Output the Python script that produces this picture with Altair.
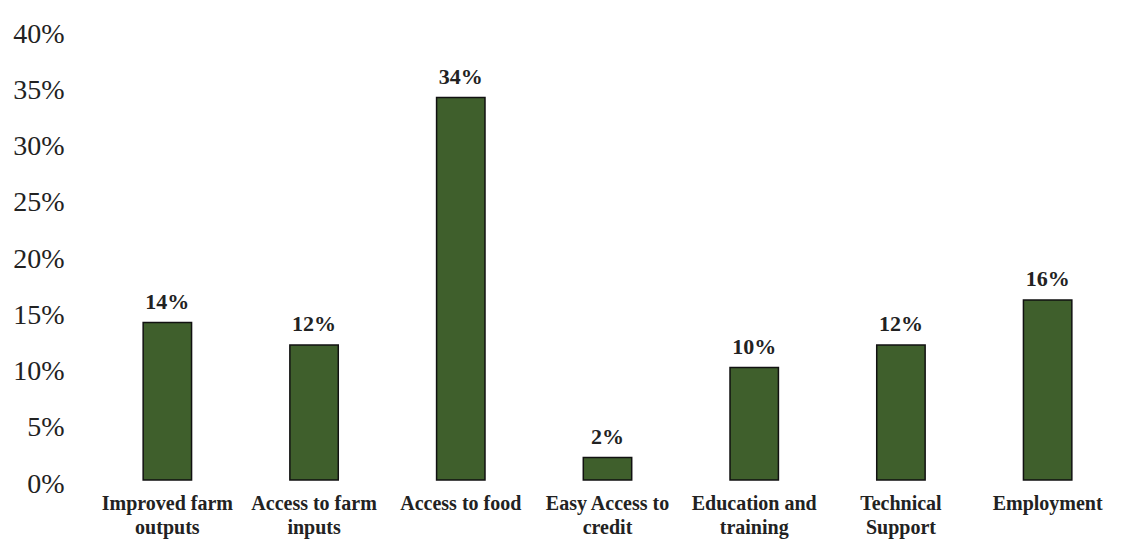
import altair as alt
import pandas as pd

categories = ["Improved farm|outputs", "Access to farm|inputs", "Access to food",
              "Easy Access to|credit", "Education and|training", "Technical|Support", "Employment"]
values = [0.14, 0.12, 0.34, 0.02, 0.10, 0.12, 0.16]
value_labels = ["14%", "12%", "34%", "2%", "10%", "12%", "16%"]

df = pd.DataFrame({"cat": categories, "val": values, "lab": value_labels})

font = "Liberation Serif"

x = alt.X("cat:N", sort=categories, title=None,
          scale=alt.Scale(paddingInner=0.67, paddingOuter=0.335),
          axis=alt.Axis(labelAngle=0, domain=False, ticks=False, labelFont=font,
                        labelFontSize=20, labelFontWeight="bold", labelColor="#222",
                        labelPadding=13, labelLineHeight=24, labelLimit=300,
                        labelExpr="split(datum.label, '|')"))
y = alt.Y("val:Q", title=None,
          scale=alt.Scale(domain=[0, 0.4], nice=False),
          axis=alt.Axis(values=[0, 0.05, 0.1, 0.15, 0.2, 0.25, 0.3, 0.35, 0.4], format=".0%",
                        domain=False, ticks=False, grid=False, labelFont=font,
                        labelFontSize=28, labelColor="#222", labelPadding=30, labelOffset=4))

bars = alt.Chart(df).mark_bar(color="#3f5f2c", stroke="#111", strokeWidth=1.5).encode(x=x, y=y)
text = alt.Chart(df).mark_text(font=font, fontSize=22, fontWeight="bold", color="#222",
                               baseline="alphabetic", dy=-14).encode(x=x, y=y, text="lab:N")

chart = (bars + text).properties(
    width=1027, height=450,
    background="white",
    autosize=alt.AutoSizeParams(type="none"),
    padding={"left": 86, "top": 22, "right": 16, "bottom": 60},
).configure_view(strokeWidth=0)

chart.save("out.html", embed_options={"renderer": "svg", "actions": False})
